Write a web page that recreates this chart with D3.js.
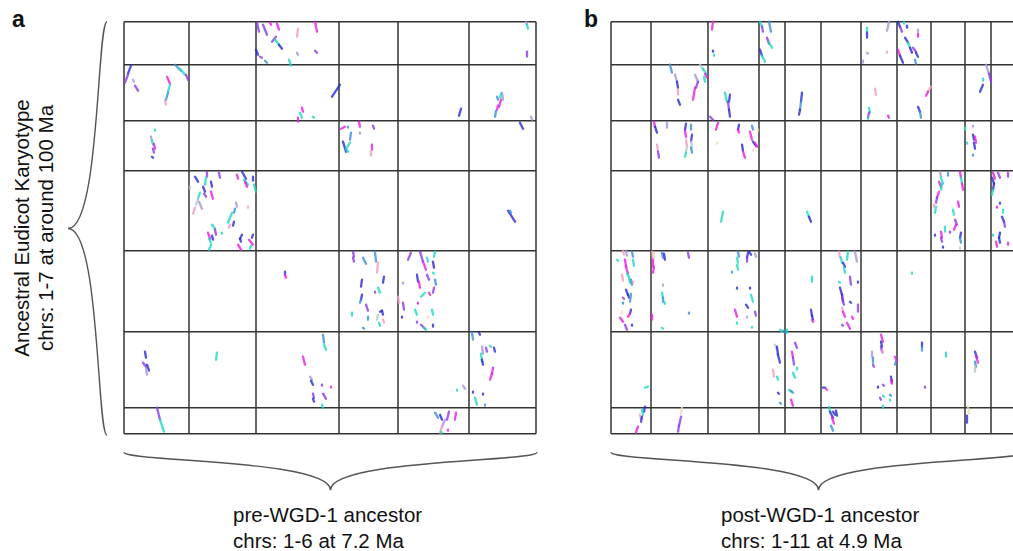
<!DOCTYPE html>
<html>
<head>
<meta charset="utf-8">
<script src="https://cdn.jsdelivr.net/npm/d3@7"></script>
<style>
    body { margin: 0; background: #fff; }
    text { font-family: "Liberation Sans", Arial, sans-serif; fill: #111; }
    .grid line { stroke: #333; stroke-width: 1.5; }
    .brace { fill: none; stroke: #555; stroke-width: 1.4; }
    .seg { stroke-linecap: round; stroke-width: 2.3; opacity: 0.8; }
    .panel-label { font-weight: bold; font-size: 23px; }
    .caption { font-size: 20.5px; }
</style>
</head>
<body>
<div id="chart"></div>
<script>

// chromosome sizes (arbitrary length units)
const ancestralChrs = [43, 56, 50, 80, 81, 76, 26];                 // rows, chrs 1-7
const preWgdChrs = [65, 67, 83, 59, 71, 67];                         // panel a columns, chrs 1-6
const postWgdChrs = [40, 57, 51, 26, 36, 40, 36, 34, 34, 26, 34];    // panel b columns, chrs 1-11

// synteny blocks: [x start, y start, x end, y end, colour class] in concatenated genome coordinates
const preSegments = [
    [133,1,135,10,"P"],[139,3,143,13,"P"],[146,1,147,3,"M"],[153,2,155,8,"M"],[148,20,152,15,"P"],[151,18,155,23,"C"],
    [155,23,158,27,"B"],[174,7,173,15,"K"],[191,0,193,10,"M"],[132,28,134,33,"B"],[136,35,138,36,"P"],[141,39,143,41,"L"],
    [165,38,167,44,"C"],[173,31,174,33,"V"],[191,29,193,31,"P"],[402,0,403,3,"V"],[403,3,404,7,"C"],[403,30,403,35,"P"],
    [7,44,4,52,"B"],[4,53,1,61,"P"],[9,58,10,60,"V"],[11,64,14,69,"P"],[51,43,57,49,"L"],[56,47,61,53,"C"],[62,53,64,58,"P"],
    [43,55,46,62,"M"],[46,63,44,70,"C"],[44,71,42,78,"L"],[41,79,42,83,"K"],[216,63,208,75,"B"],[178,86,179,90,"M"],
    [176,91,178,96,"C"],[174,96,174,100,"M"],[189,95,190,96,"C"],[337,87,335,94,"B"],[378,71,379,78,"V"],[373,75,374,78,"L"],
    [377,78,375,85,"M"],[374,84,373,88,"M"],[377,72,376,76,"C"],[372,89,371,95,"L"],[407,95,408,98,"V"],
    [31,108,31,109,"C"],[27,115,28,119,"V"],[28,119,29,123,"C"],[30,122,31,127,"M"],[29,127,30,131,"P"],[28,135,29,136,"B"],
    [217,107,221,105,"M"],[224,105,224,106,"L"],[227,111,226,118,"L"],[219,120,222,130,"B"],[226,121,222,127,"C"],
    [222,127,224,130,"C"],[235,100,236,105,"M"],[236,111,236,112,"V"],[249,104,250,107,"P"],[248,123,248,128,"M"],
    [247,129,247,134,"K"],[396,101,399,107,"B"],
    [71,155,74,160,"B"],[83,150,83,155,"P"],[82,156,81,163,"C"],[95,151,96,156,"P"],[113,153,114,157,"M"],[118,150,122,157,"B"],
    [120,158,124,163,"C"],[121,160,123,165,"M"],[129,155,129,159,"B"],[130,163,132,170,"C"],[79,165,81,170,"B"],[80,172,82,175,"P"],
    [87,160,88,165,"B"],[87,170,89,177,"M"],[76,171,74,177,"C"],[74,177,72,183,"G"],[75,180,78,187,"V"],[71,186,69,192,"K"],
    [112,181,113,185,"V"],[111,187,110,191,"L"],[108,191,104,201,"C"],[110,200,109,204,"B"],[106,203,105,206,"K"],
    [124,185,124,186,"K"],[88,203,91,207,"C"],[91,208,92,213,"P"],[98,211,98,212,"C"],[84,211,86,217,"M"],[85,217,87,221,"C"],
    [88,214,89,218,"B"],[87,223,85,228,"C"],[118,213,116,217,"B"],[116,217,117,220,"B"],[129,213,128,216,"B"],[125,218,129,223,"M"],
    [114,223,117,228,"M"],[127,224,126,227,"C"],[66,165,66,167,"G"],[384,189,391,200,"B"],[386,189,387,191,"L"],
    [161,250,161,253,"B"],[161,253,162,256,"M"],[229,230,230,235,"P"],[229,236,230,240,"P"],[239,236,242,242,"L"],
    [251,230,252,240,"L"],[254,241,253,251,"K"],[238,258,237,265,"B"],[260,255,259,261,"B"],[254,266,256,271,"C"],
    [251,270,251,271,"P"],[238,273,237,278,"B"],[237,278,236,281,"L"],[242,283,244,289,"P"],[228,291,228,294,"C"],
    [244,295,244,298,"L"],[256,290,258,289,"B"],[258,289,259,293,"B"],[254,293,253,298,"G"],[259,298,260,301,"K"],
    [255,301,256,304,"C"],[239,306,240,307,"L"],
    [287,231,284,238,"P"],[296,230,299,240,"P"],[299,240,302,248,"M"],[303,236,304,240,"C"],[311,230,310,235,"C"],
    [309,240,310,246,"B"],[309,251,310,252,"C"],[293,253,294,260,"B"],[295,260,296,266,"M"],[303,253,305,258,"P"],
    [311,258,312,263,"L"],[310,266,309,271,"P"],[305,271,306,273,"M"],[297,275,301,271,"C"],[279,261,279,262,"V"],
    [274,275,275,281,"K"],[279,281,280,288,"P"],[291,288,293,293,"C"],[308,288,309,293,"C"],[294,281,294,282,"M"],
    [278,295,278,296,"B"],[293,300,293,301,"P"],[304,295,304,296,"Y"],[297,303,301,307,"P"],[300,306,302,308,"C"],[309,303,309,305,"B"],
    [21,330,22,336,"B"],[19,341,22,345,"P"],[23,343,25,349,"B"],[22,347,23,353,"V"],[93,331,92,338,"C"],[199,313,200,321,"L"],
    [200,323,202,328,"C"],[179,335,181,343,"M"],[186,355,188,358,"V"],[187,359,189,363,"B"],[198,363,198,364,"P"],
    [207,365,207,366,"M"],[189,372,190,376,"P"],[189,377,190,380,"B"],[199,372,202,377,"P"],[198,383,199,386,"C"],
    [333,368,333,369,"C"],[339,364,341,367,"V"],[348,311,349,318,"L"],[355,311,356,313,"B"],[358,325,359,332,"V"],
    [357,332,358,340,"C"],[358,338,359,343,"B"],[362,326,363,330,"P"],[366,324,367,325,"C"],[370,326,371,330,"B"],
    [369,346,368,352,"M"],[368,352,366,358,"M"],[351,376,353,383,"C"],[349,370,349,371,"B"],[359,372,359,373,"B"],[361,383,361,384,"L"],
    [33,386,36,398,"P"],[36,398,40,410,"C"],[311,391,314,396,"L"],[316,393,318,398,"B"],[325,390,323,398,"P"],
    [332,391,331,398,"M"],[321,398,318,405,"V"],[318,405,316,411,"K"],[324,408,324,409,"M"],[317,410,318,411,"C"]
];

const postSegments = [
    [102,0,101,8,"M"],[102,29,102,30,"B"],[103,33,103,34,"C"],[149,0,151,5,"C"],[151,5,152,10,"P"],[158,0,160,10,"L"],
    [156,16,158,22,"P"],[158,21,161,26,"C"],[149,28,151,34,"B"],[151,34,154,40,"C"],[256,6,256,10,"C"],[256,11,256,16,"B"],
    [278,0,276,9,"V"],[256,31,257,32,"V"],[252,39,252,41,"V"],[276,30,276,31,"K"],[287,0,289,5,"B"],[289,5,291,10,"P"],
    [296,4,296,6,"B"],[293,0,293,2,"C"],[294,16,297,21,"B"],[297,21,299,26,"C"],[299,26,301,31,"B"],[302,26,305,30,"P"],
    [305,31,307,35,"B"],[307,8,307,10,"V"],[307,12,307,15,"M"],[287,28,289,34,"M"],[289,34,292,41,"B"],[304,38,305,42,"L"],
    [59,43,61,51,"L"],[64,53,66,60,"V"],[66,60,67,66,"B"],[67,68,67,73,"K"],[67,78,69,83,"B"],[84,53,87,60,"V"],[87,60,85,66,"P"],
    [84,66,82,78,"M"],[89,43,92,48,"G"],[92,47,95,52,"C"],[94,52,96,56,"M"],[93,55,94,60,"C"],[114,71,116,80,"C"],
    [119,73,118,80,"B"],[117,80,118,88,"P"],[118,88,119,95,"B"],[99,95,102,98,"P"],[191,71,190,80,"B"],[190,80,189,88,"L"],
    [189,88,188,93,"B"],[264,67,265,73,"K"],[258,86,259,91,"C"],[258,91,257,96,"P"],[257,96,257,97,"C"],[277,94,278,96,"M"],
    [320,65,317,70,"K"],[317,70,315,74,"M"],[307,85,309,90,"B"],[309,90,310,96,"L"],[375,43,378,52,"V"],[378,52,380,60,"P"],
    [372,57,372,59,"C"],[372,63,369,70,"B"],
    [43,100,44,105,"M"],[44,105,46,111,"B"],[56,101,56,106,"V"],[75,102,74,108,"B"],[74,109,75,115,"M"],[80,103,80,108,"L"],
    [81,113,80,120,"B"],[80,120,81,126,"G"],[80,126,81,131,"L"],[46,123,47,129,"K"],[47,130,48,136,"P"],[75,118,76,124,"K"],
    [76,125,75,130,"G"],[75,131,74,135,"C"],[107,101,105,108,"M"],[106,121,106,122,"Y"],[128,103,127,108,"B"],[127,108,128,111,"M"],
    [141,104,142,108,"L"],[139,110,141,118,"M"],[142,120,145,124,"B"],[144,121,146,125,"M"],[131,123,132,129,"B"],
    [132,130,134,136,"M"],[142,128,142,129,"Y"],[147,108,147,109,"Y"],[354,106,354,108,"C"],[362,104,362,105,"V"],
    [362,113,363,118,"B"],[364,115,365,121,"M"],[363,121,364,127,"B"],[356,121,356,122,"C"],[362,133,362,134,"L"],
    [112,190,110,200,"C"],[196,190,198,195,"C"],[198,195,200,200,"B"],[329,150,330,155,"V"],[337,151,337,154,"L"],
    [330,156,332,162,"C"],[328,160,330,165,"M"],[331,162,330,168,"C"],[328,170,326,176,"M"],[326,176,325,181,"P"],
    [325,185,324,191,"C"],[323,183,323,185,"K"],[347,180,348,185,"M"],[342,188,343,193,"C"],[344,198,346,203,"P"],
    [345,203,343,208,"M"],[334,205,334,210,"C"],[330,210,331,216,"M"],[330,216,331,220,"P"],[324,213,324,214,"B"],
    [339,210,339,211,"P"],[332,225,332,226,"B"],[350,211,349,216,"B"],[349,216,350,221,"L"],[349,150,350,156,"M"],
    [350,156,351,162,"C"],[351,162,352,168,"M"],[349,226,349,227,"G"],[382,151,384,157,"M"],[381,156,383,162,"B"],
    [383,162,382,168,"B"],[382,168,381,173,"C"],[387,151,389,156,"P"],[397,151,397,155,"P"],[389,181,389,182,"B"],
    [392,188,392,191,"C"],[391,195,393,200,"B"],[393,200,394,205,"P"],[386,185,386,186,"M"],[389,211,388,216,"B"],
    [388,216,389,221,"B"],[385,220,386,225,"M"],[382,213,382,214,"C"],[397,221,397,223,"M"],
    [12,229,13,233,"K"],[15,229,16,234,"V"],[6,238,7,239,"C"],[14,238,15,245,"M"],[15,245,17,252,"M"],[16,252,18,255,"C"],
    [21,230,22,235,"L"],[22,238,23,244,"C"],[11,253,12,259,"K"],[18,256,19,261,"C"],[20,258,21,263,"L"],[22,260,22,261,"K"],
    [15,268,17,273,"B"],[17,273,18,276,"B"],[20,272,19,280,"L"],[12,276,13,277,"P"],[12,281,12,282,"L"],[20,288,19,292,"B"],
    [19,292,17,295,"M"],[11,290,11,292,"Y"],[9,296,12,300,"M"],[14,303,16,308,"P"],[21,303,21,304,"B"],
    [41,230,42,237,"K"],[42,238,42,245,"M"],[43,245,42,251,"M"],[43,231,43,236,"Y"],[51,231,52,236,"L"],[53,232,54,238,"B"],
    [77,231,78,236,"P"],[51,271,52,276,"C"],[52,276,52,280,"L"],[53,280,54,282,"C"],[52,263,52,264,"V"],[41,293,41,298,"M"],
    [51,306,52,307,"C"],[78,291,78,292,"L"],
    [127,230,128,235,"L"],[126,236,127,241,"C"],[137,231,136,236,"B"],[138,230,140,233,"B"],[136,236,136,240,"P"],
    [144,232,145,235,"V"],[126,243,127,248,"C"],[121,250,121,251,"L"],[126,266,126,267,"B"],[139,266,139,267,"B"],
    [140,273,142,280,"C"],[135,283,137,286,"B"],[124,288,126,295,"M"],[144,290,145,294,"P"],[136,295,136,296,"V"],
    [126,301,126,302,"C"],[141,305,141,306,"C"],[201,255,201,260,"C"],[200,288,201,294,"B"],[201,294,202,298,"B"],
    [201,298,202,300,"M"],[228,230,229,236,"K"],[230,236,231,241,"C"],[237,230,236,238,"C"],[244,230,246,240,"V"],
    [232,241,234,245,"B"],[233,246,234,251,"C"],[228,260,229,261,"C"],[229,266,231,273,"B"],[231,273,232,280,"B"],
    [231,276,233,283,"P"],[239,255,240,263,"P"],[247,260,247,261,"B"],[239,280,240,281,"B"],[231,286,232,290,"K"],
    [232,290,234,295,"M"],[241,295,242,297,"M"],[236,301,239,307,"M"],[231,303,232,304,"P"],[247,283,247,290,"P"],
    [301,251,301,252,"C"],
    [34,366,37,365,"C"],[169,308,171,310,"C"],[172,309,175,311,"L"],[176,308,176,311,"C"],[164,323,166,328,"G"],
    [166,325,167,333,"B"],[167,333,169,341,"B"],[162,348,163,355,"K"],[166,355,167,358,"C"],[167,371,168,372,"B"],
    [169,381,170,382,"L"],[184,321,186,326,"P"],[181,330,182,336,"M"],[182,336,183,343,"P"],[186,346,186,348,"C"],
    [182,351,184,356,"C"],[178,368,180,370,"C"],[180,369,182,371,"L"],[180,378,182,384,"M"],[212,366,214,366,"B"],
    [215,367,216,368,"M"],[270,313,272,320,"M"],[270,320,271,325,"B"],[270,325,271,330,"P"],[271,329,272,331,"K"],
    [261,330,261,335,"V"],[262,336,262,341,"L"],[262,343,263,345,"P"],[284,335,286,340,"M"],[285,340,284,343,"L"],
    [280,355,281,360,"B"],[280,358,281,362,"M"],[267,365,267,366,"B"],[272,363,273,364,"P"],[269,376,270,378,"P"],
    [272,374,273,375,"C"],[279,373,280,374,"L"],[279,378,279,379,"C"],[272,384,272,386,"C"],[311,321,311,325,"B"],
    [311,326,311,329,"L"],[314,365,314,366,"P"],[335,331,335,335,"C"],[364,330,366,336,"B"],[365,334,367,341,"M"],
    [364,340,365,345,"L"],[364,345,364,350,"G"],
    [34,385,33,390,"B"],[31,388,32,393,"C"],[29,393,30,397,"K"],[31,395,30,400,"B"],[27,405,25,411,"M"],[71,386,70,392,"Y"],
    [70,395,68,404,"P"],[68,404,67,410,"P"],[218,385,219,390,"C"],[219,390,222,396,"B"],[221,396,223,402,"M"],
    [220,404,222,409,"L"],[222,390,224,393,"B"],[225,389,226,394,"B"],[357,385,358,392,"Y"],[356,394,356,401,"B"]
];

const segColors = {
    B: "#2a2ad8", P: "#8a3ae6", M: "#e81ee0", C: "#1fd9c4", L: "#3b8fd9",
    K: "#f49cc4", V: "#a596dc", G: "#b9c9c9", Y: "#e9dcb5"
};

const yLabelLines = ["Ancestral Eudicot Karyotype", "chrs: 1-7 at around 100 Ma"];
const preCaption = ["pre-WGD-1 ancestor", "chrs: 1-6 at 7.2 Ma"];
const postCaption = ["post-WGD-1 ancestor", "chrs: 1-11 at 4.9 Ma"];


function bracePath(ax, ay, bx, by, w) {
    let len = Math.hypot(bx - ax, by - ay);
    let ux = (bx - ax) / len, uy = (by - ay) / len;
    let nx = -uy, ny = ux;
    let mx = (ax + bx) / 2, my = (ay + by) / 2;
    let p = d3.path();
    p.moveTo(ax, ay);
    p.bezierCurveTo(ax + nx * 0.26 * w, ay + ny * 0.26 * w, mx + nx * 0.18 * w, my + ny * 0.18 * w, mx + nx * w, my + ny * w);
    p.bezierCurveTo(mx + nx * 0.18 * w, my + ny * 0.18 * w, bx + nx * 0.26 * w, by + ny * 0.26 * w, bx, by);
    return p.toString();
}


class SyntenyPanel {
    constructor(_svg, _cols, _rows, _data, _left, _top, _label, _labelX, _caption) {
        this.svg = _svg;
        this.cols = _cols;
        this.rows = _rows;
        this.data = _data;
        this.left = _left;
        this.top = _top;
        this.label = _label;
        this.labelX = _labelX;
        this.caption = _caption;
        this.initvis();
    }

    initvis() {
        let vis = this;

        vis.x = d3.scaleLinear()
            .domain([0, d3.sum(vis.cols)])
            .range([vis.left, vis.left + d3.sum(vis.cols)]);

        vis.y = d3.scaleLinear()
            .domain([0, d3.sum(vis.rows)])
            .range([vis.top, vis.top + d3.sum(vis.rows)]);

        vis.g = vis.svg.append("g").attr("class", "panel");
        vis.grid = vis.g.append("g").attr("class", "grid");
        vis.segGroup = vis.g.append("g").attr("class", "segments");

        vis.g.append("text")
            .attr("class", "panel-label")
            .attr("x", vis.labelX)
            .attr("y", 27)
            .text(vis.label);

        // brace under the columns
        let bx0 = vis.x.range()[0], bx1 = vis.x.range()[1];
        vis.g.append("path")
            .attr("class", "brace")
            .attr("d", bracePath(bx0, vis.y.range()[1] + 18.5, bx1 + 1, vis.y.range()[1] + 18.5, 38));

        vis.g.append("text")
            .attr("class", "caption")
            .attr("x", (bx0 + bx1) / 2 - 97)
            .attr("y", 522)
            .selectAll("tspan")
            .data(vis.caption)
            .enter()
            .append("tspan")
            .attr("x", (bx0 + bx1) / 2 - 97)
            .attr("dy", (d, i) => i === 0 ? 0 : 25.5)
            .text(d => d);

        vis.wrangleData();
    }

    wrangleData() {
        let vis = this;

        vis.colBreaks = [0, ...d3.cumsum(vis.cols)];
        vis.rowBreaks = [0, ...d3.cumsum(vis.rows)];
        vis.displayData = vis.data.map(d => ({x1: d[0], y1: d[1], x2: d[2], y2: d[3], c: d[4]}));

        vis.updateVis();
    }

    updateVis() {
        let vis = this;

        vis.grid.selectAll(".vline")
            .data(vis.colBreaks)
            .enter()
            .append("line")
            .attr("class", "vline")
            .attr("x1", d => vis.x(d))
            .attr("x2", d => vis.x(d))
            .attr("y1", vis.y.range()[0])
            .attr("y2", vis.y.range()[1]);

        vis.grid.selectAll(".hline")
            .data(vis.rowBreaks)
            .enter()
            .append("line")
            .attr("class", "hline")
            .attr("x1", vis.x.range()[0])
            .attr("x2", vis.x.range()[1])
            .attr("y1", d => vis.y(d))
            .attr("y2", d => vis.y(d));

        vis.segGroup.selectAll(".seg")
            .data(vis.displayData)
            .enter()
            .append("line")
            .attr("class", "seg")
            .attr("x1", d => vis.x(d.x1))
            .attr("y1", d => vis.y(d.y1))
            .attr("x2", d => vis.x(d.x2))
            .attr("y2", d => vis.y(d.y2))
            .style("stroke", d => segColors[d.c]);
    }
}


let svg = d3.select("#chart").append("svg")
    .attr("width", 1013)
    .attr("height", 551)
    .style("display", "block");

let panelA = new SyntenyPanel(svg, preWgdChrs, ancestralChrs, preSegments, 124, 21.7, "a", 12, preCaption);
let panelB = new SyntenyPanel(svg, postWgdChrs, ancestralChrs, postSegments, 611, 21.7, "b", 584, postCaption);

// left brace + y label, shared by both panels
svg.append("path")
    .attr("class", "brace")
    .attr("d", bracePath(107, panelA.y.range()[0], 107, panelA.y.range()[1] + 1.5, 39));

svg.append("g")
    .attr("transform", "translate(0, 228) rotate(-90)")
    .selectAll("text")
    .data(yLabelLines)
    .enter()
    .append("text")
    .attr("class", "caption")
    .attr("x", 0)
    .attr("y", (d, i) => 28.5 + i * 24.5)
    .style("text-anchor", "middle")
    .text(d => d);

</script>
</body>
</html>
